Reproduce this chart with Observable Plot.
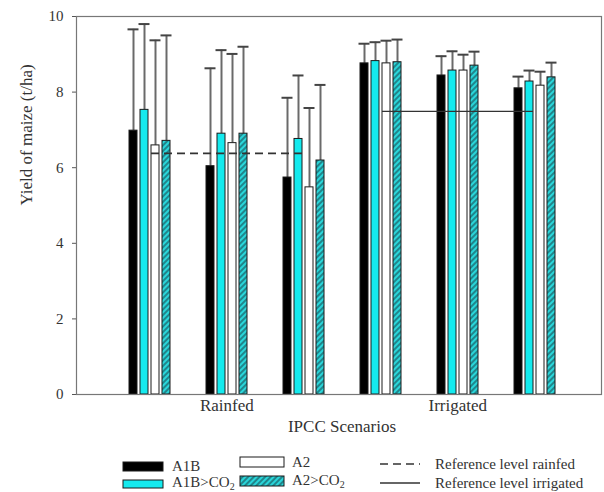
<!DOCTYPE html>
<html><head><meta charset="utf-8">
<script src="https://cdn.jsdelivr.net/npm/d3@7"></script>
<script src="https://cdn.jsdelivr.net/npm/@observablehq/plot@0.6"></script>
<style>
body{margin:0;background:#fff;}
#chart svg{display:block;}
</style>
</head><body><div id="chart"></div>
<script>
// ---- data ----
const groups = ["Rainfed-1","Rainfed-2","Rainfed-3","Irrigated-1","Irrigated-2","Irrigated-3"];
const series = ["A1B","A1B>CO2","A2","A2>CO2"];
const seriesFill = ["#000000","#14eaee","#ffffff","url(#hatch)"];

const meanA1B    = [6.98, 6.04, 5.74, 8.76, 8.44, 8.10];
const meanA1BCO2 = [7.53, 6.90, 6.76, 8.82, 8.57, 8.28];
const meanA2     = [6.59, 6.65, 5.48, 8.76, 8.57, 8.17];
const meanA2CO2  = [6.71, 6.90, 6.19, 8.79, 8.70, 8.39];

const sdA1B    = [2.68, 2.59, 2.11, 0.52, 0.51, 0.31];
const sdA1BCO2 = [2.27, 2.21, 1.68, 0.50, 0.51, 0.29];
const sdA2     = [2.78, 2.36, 2.10, 0.60, 0.42, 0.37];
const sdA2CO2  = [2.79, 2.30, 2.00, 0.60, 0.37, 0.39];

const refLabels = ["Reference level rainfed","Reference level irrigated"];
const refValues = [6.38, 7.49];
const refFrom   = ["Rainfed-1|A2","Irrigated-1|A2"];
const refTo     = ["Rainfed-3|A1B>CO2","Irrigated-3|A1B>CO2"];
const refDash   = ["8,5", null];

const tickLabels = ["Rainfed","Irrigated"];
const tickGroups = ["Rainfed-2","Irrigated-2"];
const yTicks = [0,2,4,6,8,10];
const yLabel = "Yield of maize (t/ha)";
const xLabel = "IPCC Scenarios";

// ---- tables ----
const means = [meanA1B, meanA1BCO2, meanA2, meanA2CO2];
const sds = [sdA1B, sdA1BCO2, sdA2, sdA2CO2];
const rows = groups.flatMap((g, gi) => series.map((s, si) => ({
  group: g, series: s, key: g + "|" + s, mean: means[si][gi], top: means[si][gi] + sds[si][gi]
})));
const refs = refLabels.map((l, i) => ({label: l, value: refValues[i], x1: refFrom[i], x2: refTo[i], dash: refDash[i]}));
const ticks = tickLabels.map((t, i) => ({label: t, key: tickGroups[i] + "|A2"}));
const xDomain = groups.flatMap((g, i) => [
  ...series.map(s => g + "|" + s),
  ...(i < groups.length - 1 ? ["a","b","c"].map(j => `gap${i}${j}`) : [])
]);

const font = "'Liberation Serif', 'Times New Roman', serif";
const ink = "#333";

const chart = Plot.plot({
  width: 604, height: 445,
  marginLeft: 76, marginRight: 3, marginTop: 16, marginBottom: 51,
  style: {fontFamily: font, fontSize: "15px", color: ink, background: "#fff"},
  x: {type: "band", domain: xDomain, paddingInner: 0.3, paddingOuter: 0, insetLeft: 45, insetRight: 38, axis: null},
  y: {domain: [0, 10]},
  color: {type: "ordinal", domain: series, range: seriesFill},
  marks: [
    Plot.axisY({ticks: yTicks, tickSize: 4, tickPadding: 9, fontSize: 15, label: null, stroke: "#555", fill: ink}),
    Plot.ruleX(rows, {x: "key", y1: "mean", y2: "top", stroke: "#6a6a6a", strokeWidth: 2}),
    Plot.tickY(rows, {x: "key", y: "top", stroke: "#444", strokeWidth: 2, insetLeft: -1.5, insetRight: -1.5}),
    Plot.barY(rows, {x: "key", y: "mean", fill: "series", stroke: "#1a1a1a", strokeWidth: 1}),
    Plot.ruleY(refs.filter(d => d.dash), {y: "value", x1: "x1", x2: "x2", stroke: "#333", strokeWidth: 1.6, strokeDasharray: "8,5"}),
    Plot.ruleY(refs.filter(d => !d.dash), {y: "value", x1: "x1", x2: "x2", stroke: "#333", strokeWidth: 1.3}),
    Plot.text(ticks, {x: "key", text: "label", frameAnchor: "bottom", dy: 16, dx: -5.7, fontSize: 17, fill: ink}),
    Plot.text([xLabel], {frameAnchor: "bottom", dy: 37, dx: 3, fontSize: 17, fill: ink}),
    Plot.text([yLabel], {frameAnchor: "left", rotate: -90, dx: -50, fontSize: 17, fill: ink}),
    Plot.frame({stroke: "#777", strokeWidth: 1.2})
  ]
});

const patternHTML = id => `<pattern id="${id}" width="4" height="4" patternUnits="userSpaceOnUse" patternTransform="rotate(45)"><rect width="4" height="4" fill="#2ad6da"/><line x1="2" y1="0" x2="2" y2="4" stroke="#1d6a70" stroke-width="1.5"/></pattern>`;
d3.select(chart).insert("defs", ":first-child").html(patternHTML("hatch"));
document.getElementById("chart").appendChild(chart);

// ---- legend ----
const leg = d3.create("svg").attr("width", 604).attr("height", 47)
  .style("font-family", font).style("font-size", "15px").style("display", "block");
leg.append("defs").html(patternHTML("hatch2"));
const legFill = seriesFill.map(f => f === "url(#hatch)" ? "url(#hatch2)" : f);
const sw = [
  {x: 123, y: 17, w: 40, h: 9, tx: 172, ty: 26},
  {x: 123, y: 35, w: 40, h: 8, tx: 172, ty: 42},
  {x: 240, y: 12, w: 44, h: 10, tx: 292, ty: 22},
  {x: 240, y: 31, w: 44, h: 10, tx: 292, ty: 40}
];
series.forEach((s, i) => {
  const p = sw[i];
  leg.append("rect").attr("x", p.x).attr("y", p.y).attr("width", p.w).attr("height", p.h)
    .attr("fill", legFill[i]).attr("stroke", "#1a1a1a").attr("stroke-width", 1);
  const t = leg.append("text").attr("x", p.tx).attr("y", p.ty).attr("fill", ink);
  const m = s.match(/^(.*CO)2$/);
  if (m) {
    t.append("tspan").text(m[1]);
    t.append("tspan").attr("dy", 2.5).attr("font-size", 10).text("2");
  } else t.text(s);
});
refs.forEach((r, i) => {
  const y = i === 0 ? 19 : 38;
  leg.append("line").attr("x1", 380).attr("x2", 420).attr("y1", y).attr("y2", y)
    .attr("stroke", "#333").attr("stroke-width", 1.5).attr("stroke-dasharray", r.dash);
  leg.append("text").attr("x", 435).attr("y", y + 5).attr("fill", ink).text(r.label);
});
document.getElementById("chart").appendChild(leg.node());
</script>
</body></html>
